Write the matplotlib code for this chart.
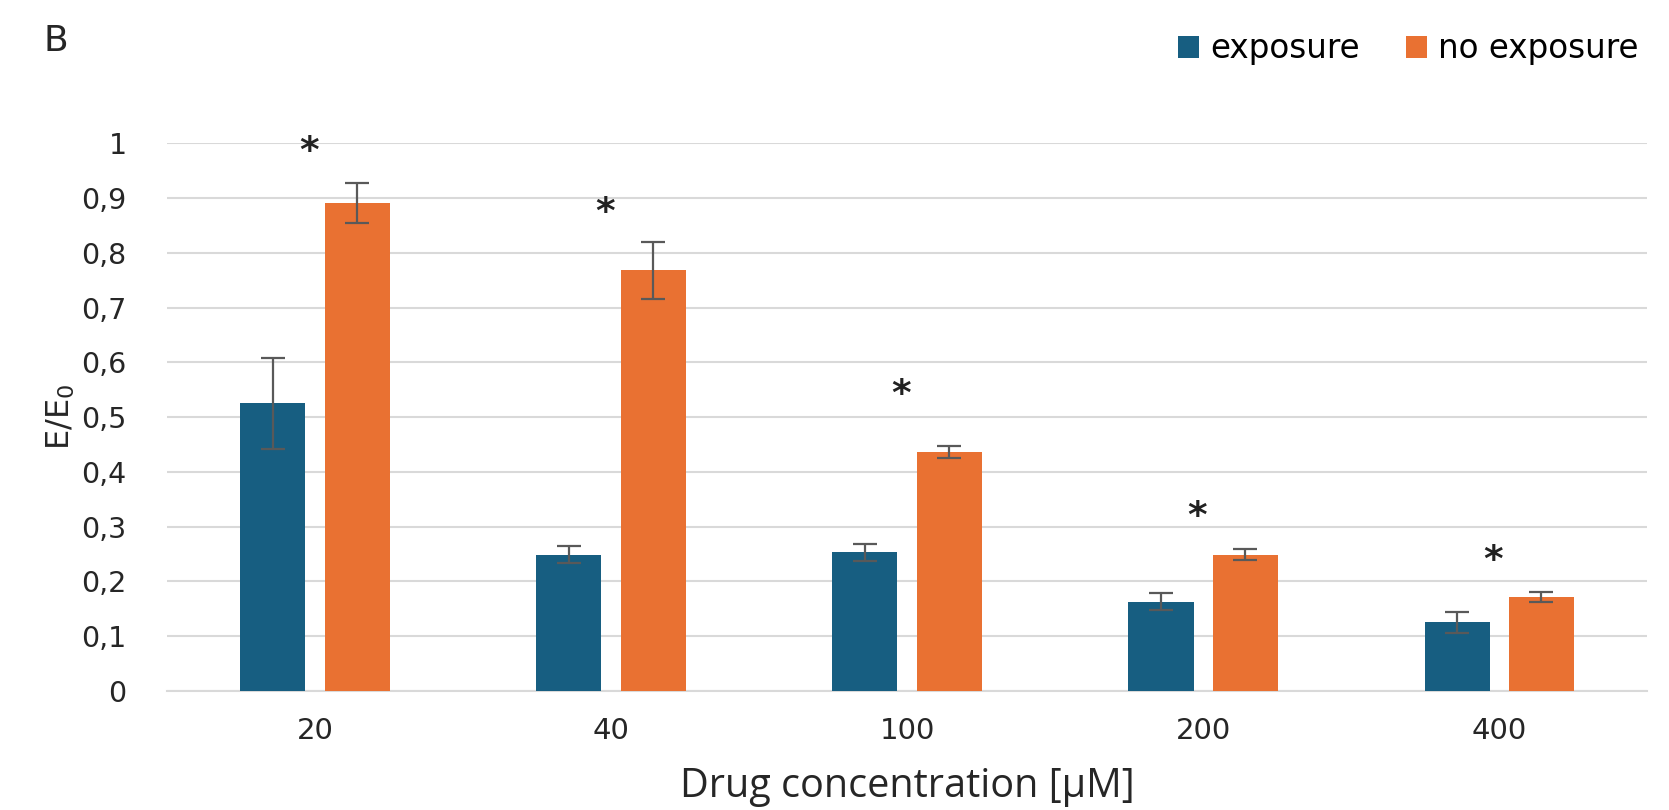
import numpy as np
from matplotlib import pyplot as plt

# values
concentrations = ['20', '40', '100', '200', '400']
exposure = [0.525, 0.249, 0.253, 0.163, 0.125]
exposure_err = [0.083, 0.015, 0.016, 0.016, 0.020]
no_exposure = [0.891, 0.768, 0.436, 0.249, 0.171]
no_exposure_err = [0.037, 0.052, 0.011, 0.010, 0.009]
star_y = [0.985, 0.873, 0.540, 0.318, 0.238]

blue = '#175e81'
orange = '#e97132'
grid_col = '#d9d9d9'
txt = '#262626'

fig = plt.figure(figsize=(16.69, 8.10), dpi=100)
ax = fig.add_axes([0.100, 0.147, 0.887, 0.676])

x = np.arange(len(concentrations))
w = 0.22
off = 0.1425
err_kw = dict(ecolor='#595959', elinewidth=1.6, capsize=8.5, capthick=1.6)

ax.bar(x - off, exposure, w, color=blue, yerr=exposure_err, error_kw=err_kw,
       label='exposure', zorder=3)
ax.bar(x + off, no_exposure, w, color=orange, yerr=no_exposure_err, error_kw=err_kw,
       label='no exposure', zorder=3)

for xi, yi in zip(x, star_y):
    ax.text(xi - 0.02, yi, '*', ha='center', va='center', fontsize=27,
            color='#222222', fontweight='bold', clip_on=False)

ax.set_xlim(-0.5, 4.5)
ax.set_ylim(0, 1)
ax.set_yticks(np.arange(0, 1.01, 0.1))
ax.set_yticklabels(['0', '0,1', '0,2', '0,3', '0,4', '0,5', '0,6', '0,7', '0,8', '0,9', '1'],
                   fontsize=20.5, family='DejaVu Sans', color=txt)
ax.set_xticks(x)
ax.set_xticklabels(concentrations, fontsize=21, family='DejaVu Sans', color=txt)
ax.tick_params(axis='both', length=0)
ax.tick_params(axis='y', pad=29)
ax.tick_params(axis='x', pad=19)
ax.yaxis.grid(True, color=grid_col, linewidth=1.5, zorder=0)
for s in ['top', 'right', 'left']:
    ax.spines[s].set_visible(False)
ax.spines['bottom'].set_color(grid_col)
ax.spines['bottom'].set_linewidth(1.5)

ax.set_ylabel('E/E$_0$', fontsize=23, color=txt, labelpad=3)
ax.set_xlabel('Drug concentration [μM]', fontsize=28.5, family='Open Sans', color=txt)
ax.xaxis.set_label_coords(0.5, -0.194)
ax.xaxis.label.set_va('baseline')

fig.text(0.026, 0.949, 'B', fontsize=26, family='DejaVu Sans', color=txt, va='center')
fig.legend(loc='center left', bbox_to_anchor=(0.688, 0.94), ncol=2, frameon=False,
           handlelength=0.66, handleheight=0.66, handletextpad=0.34,
           columnspacing=1.4, prop={'family': 'DejaVu Sans', 'size': 23.5})

fig.savefig('out.png', dpi=100)
